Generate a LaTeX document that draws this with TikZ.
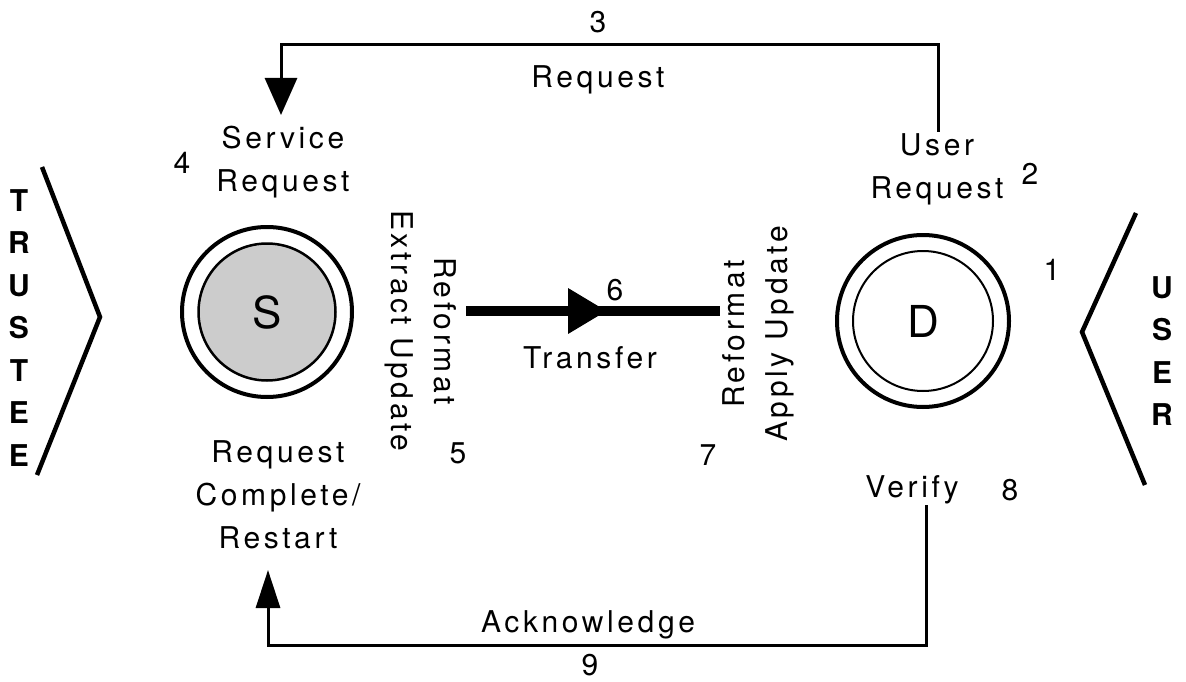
\documentclass[tikz,border=0pt]{standalone}
\usepackage{fontspec}
\setmainfont{TeX Gyre Heros}[LetterSpace=12]
\usetikzlibrary{arrows.meta}
\begin{document}
\begin{tikzpicture}[x=1pt,y=-1pt,
  lbl/.style={font=\fontsize{30}{43}\selectfont, align=center, inner sep=0pt},
  side/.style={font=\fontsize{30}{42.5}\selectfont\bfseries, align=center, inner sep=0pt},
  big/.style={font=\fontsize{44}{44}\selectfont, inner sep=0pt},
  conn/.style={line width=3pt, line join=miter},
  chevron/.style={line width=4.5pt, line join=miter},
  flow/.style={line width=10pt}]
\fill[white] (0,0) rectangle (1186,682);
\useasboundingbox (0,0) rectangle (1186,682);

% the two parties
\node[side] (trustee) at (19,328) {T\\R\\U\\S\\T\\E\\E};
\node[side] (user) at (1162,351) {U\\S\\E\\R};
\coordinate (lt) at (42,167);
\coordinate (lp) at (100,317);
\coordinate (lb) at (37,475);
\coordinate (rt) at (1136,213);
\coordinate (rp) at (1082,332);
\coordinate (rb) at (1145,485);
\draw[chevron] (lt) -- (lp) -- (lb);
\draw[chevron] (rt) -- (rp) -- (rb);

% source and destination
\node[circle, draw, line width=2.5pt, fill=black!20, minimum size=137pt, big] (S) at (267,312) {S};
\draw[line width=4pt] (S.center) circle[radius=85pt];
\node[circle, draw, line width=2pt, minimum size=140pt, big] (D) at (923,321) {D};
\draw[line width=4pt] (D.center) circle[radius=86pt];

% labels
\node[lbl] (n3) at (598,22) {3};
\node[lbl] (treq) at (598,80) {Request};
\node[lbl] (sreq) at (283,162) {Service\\Request};
\node[lbl] (n4) at (182,163) {4};
\node[lbl] (ureq) at (937,169) {User\\Request};
\node[lbl] (n2) at (1030,174) {2};
\node[lbl] (n1) at (1052,270) {1};
\node[lbl, rotate=-90] (ext) at (421,331) {Reformat\\Extract Update};
\node[lbl] (n5) at (458,453) {5};
\node[lbl, rotate=90] (app) at (758,334) {Reformat\\Apply Update};
\node[lbl] (n7) at (708,455) {7};
\node[lbl] (n6) at (615,290) {6};
\node[lbl] (tr) at (590,358) {Transfer};
\node[lbl] (rcr) at (278,495) {Request\\Complete/\\Restart};
\node[lbl] (ver) at (912,490) {Verify};
\node[lbl] (n8) at (1010,490) {8};
\node[lbl] (ack) at (588,625) {Acknowledge};
\node[lbl] (n9) at (590,665) {9};

% transfer
\coordinate (ta) at (466,311);
\coordinate (tm) at (607,311);
\coordinate (tb) at (720,311);
\draw[flow] (ta) -- (tb);
\draw[flow, -{Triangle[length=39pt,width=43pt]}] (ta) -- (tm);

% request and acknowledge loops
\coordinate (topstart) at (938,132);
\coordinate (toptip) at (281,115);
\draw[conn, -{Triangle[length=37pt,width=32pt]}] (topstart) -- ++(0,-87) -| (toptip);
\coordinate (botstart) at (926,505);
\coordinate (bottip) at (268,570);
\draw[conn, -{Triangle[length=38pt,width=24pt]}] (botstart) -- ++(0,140) -| (bottip);
\end{tikzpicture}
\end{document}
